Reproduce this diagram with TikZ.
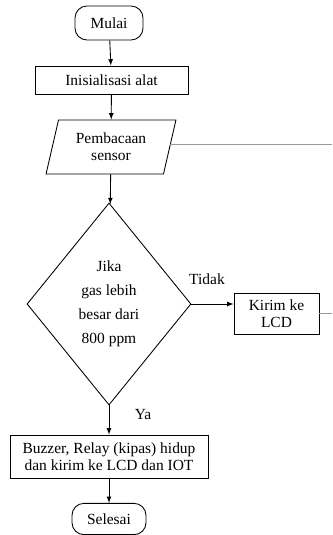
\documentclass[tikz,border=0pt]{standalone}
\usepackage{fontspec}
\setmainfont{Liberation Serif}
\usetikzlibrary{shapes.geometric, positioning}

\begin{document}
\begin{tikzpicture}[x=0.75pt, y=-0.75pt, line width=0.65pt,
    font=\fontsize{11.6}{13}\selectfont,
    terminal/.style={draw, rounded corners=9pt, align=center},
    proses/.style={draw, rectangle, align=center, inner sep=0pt},
    io/.style={draw, trapezium, trapezium left angle=73.5, trapezium right angle=106.5,
        trapezium stretches=true, align=center, inner sep=0pt},
    keputusan/.style={draw, diamond, align=center, inner sep=0pt},
    panah/.style={-latex},
    keluar/.style={draw=gray!80}]
    \useasboundingbox (0,0) rectangle (332,535);
    \node[terminal, minimum width=51pt, minimum height=25.5pt] (mulai) at (109,23) {Mulai};
    \node[proses, minimum width=114.75pt, minimum height=21pt] (init) at (111.5,80) {Inisialisasi alat};
    \node[io, minimum width=97.5pt, minimum height=40.5pt] (baca) at (111,147) {Pembacaan\\sensor};
    \node[keputusan, minimum width=123pt, minimum height=151.5pt,
        font=\fontsize{11.6}{18}\selectfont] (cek) at (109,304) {Jika\\gas lebih\\besar dari\\800 ppm};
    \node[proses, minimum width=63.75pt, minimum height=30.75pt] (kirim) at (276.5,313.5) {Kirim ke\\LCD};
    \node[proses, minimum width=148.5pt, minimum height=32.25pt] (buzzer) at (109,456.5)
        {Buzzer, Relay (kipas) hidup\\dan kirim ke LCD dan IOT};
    \node[terminal, minimum width=55.5pt, minimum height=23.5pt] (selesai) at (109,519) {Selesai};
    \node (tidak) at (207,279) {Tidak};
    \node (ya) at (143,415) {Ya};
    \coordinate (tepiA) at (332,144);
    \coordinate (tepiB) at (332,313.5);

    \draw[panah] (mulai) -- (init);
    \draw[panah] (init) -- (baca);
    \draw[panah] (baca) -- (cek);
    \draw[panah] (cek.east) -- (cek.east -| kirim.west);
    \draw[panah] (cek) -- (buzzer);
    \draw[panah] (buzzer) -- (selesai);
    \draw[keluar] (baca.east |- tepiA) -- (tepiA);
    \draw[keluar] (kirim.east) -- (tepiB);
\end{tikzpicture}
\end{document}
